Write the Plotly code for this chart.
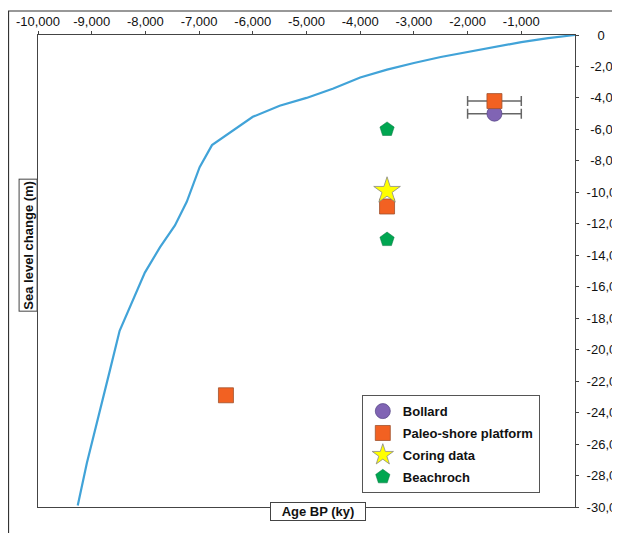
import math
import plotly.graph_objects as go

# ---- data ----
curve_age = [0, -500, -1000, -1500, -2000, -2500, -3000, -3500, -4000, -4500, -5000,
             -5500, -6000, -6760, -6990, -7230, -7450, -7730, -8010, -8250, -8480,
             -8660, -8900, -9090, -9260]
curve_sl = [0, -0.2, -0.45, -0.76, -1.08, -1.4, -1.78, -2.2, -2.7, -3.4, -4.0,
            -4.5, -5.2, -7.0, -8.4, -10.6, -12.1, -13.5, -15.1, -17.0, -18.8,
            -21.3, -24.5, -27.2, -29.9]

bollard_age = [-1500]
bollard_sl = [-5.0]
bollard_err = [500]

paleo_age = [-1500, -3500, -6500]
paleo_sl = [-4.2, -10.9, -22.9]
paleo_err = [500, math.nan, math.nan]

coring_age = [-3500]
coring_sl = [-9.9]

beach_age = [-3500, -3500]
beach_sl = [-6.0, -13.0]

x_ticks = [-10000, -9000, -8000, -7000, -6000, -5000, -4000, -3000, -2000, -1000]
x_labels = ["-10,000", "-9,000", "-8,000", "-7,000", "-6,000", "-5,000",
            "-4,000", "-3,000", "-2,000", "-1,000"]
y_ticks = [0, -2, -4, -6, -8, -10, -12, -14, -16, -18, -20, -22, -24, -26, -28, -30]
y_labels = ["0", "-2,0", "-4,0", "-6,0", "-8,0", "-10,0", "-12,0", "-14,0", "-16,0",
            "-18,0", "-20,0", "-22,0", "-24,0", "-26,0", "-28,0", "-30,0"]

NB = "\u00a0"


def centred(lbl):
    # pad short labels so they sit centred like the original's
    if len(lbl) == 1:
        return NB * 3 + lbl
    if len(lbl) == 4:
        return NB + lbl
    return lbl


FONT = "Liberation Sans, Arial, sans-serif"
err_style = dict(type="data", color="#666666", thickness=1.5, width=5)

fig = go.Figure()
fig.add_trace(go.Scatter(x=curve_age, y=curve_sl, mode="lines",
                         line=dict(color="#41a3d8", width=2.2), showlegend=False,
                         hoverinfo="skip"))
fig.add_trace(go.Scatter(x=bollard_age, y=bollard_sl, mode="markers", name="Bollard",
                         legendgroup="a",
                         error_x=dict(array=bollard_err, **err_style),
                         marker=dict(symbol="circle", size=15, color="#8064b4",
                                     line=dict(color="#5a4a8a", width=0.8))))
fig.add_trace(go.Scatter(x=paleo_age, y=paleo_sl, mode="markers", name="Paleo-shore platform",
                         legendgroup="b",
                         error_x=dict(array=paleo_err, **err_style),
                         marker=dict(symbol="square", size=15, color="#f26122",
                                     line=dict(color="#a0522d", width=0.8))))
fig.add_trace(go.Scatter(x=coring_age, y=coring_sl, mode="markers", name="Coring data",
                         legendgroup="c",
                         marker=dict(symbol="star", size=20, color="#ffff00",
                                     line=dict(color="#888888", width=0.8))))
fig.add_trace(go.Scatter(x=beach_age, y=beach_sl, mode="markers", name="Beachroch",
                         legendgroup="d",
                         marker=dict(symbol="pentagon", size=15, color="#00a651",
                                     line=dict(color="#00703a", width=0.5))))

fig.update_layout(
    width=612, height=525,
    margin=dict(l=30, r=45, t=27, b=26, autoexpand=False),
    paper_bgcolor="white", plot_bgcolor="white",
    font=dict(family=FONT, size=13, color="#111111"),
    xaxis=dict(range=[-10000, 0], side="top", tickvals=x_ticks, ticktext=x_labels,
               showgrid=False, zeroline=False, showline=True, mirror=True,
               linecolor="#444444", linewidth=1, ticks="outside", ticklen=3,
               tickcolor="#444444", tickfont=dict(size=13, family=FONT),
               automargin=False, ticklabelstandoff=0),
    yaxis=dict(range=[-30, 0], side="right", tickvals=y_ticks,
               ticktext=[centred(t) for t in y_labels],
               showgrid=False, zeroline=False, showline=True, mirror=True,
               linecolor="#444444", linewidth=1, ticks="outside", ticklen=3,
               tickcolor="#444444", tickfont=dict(size=13, family=FONT),
               automargin=False, ticklabelstandoff=5),
    legend=dict(x=0.603, y=0.237, xanchor="left", yanchor="top",
                bordercolor="#555555", borderwidth=1, bgcolor="white",
                font=dict(family=FONT, size=13, color="#111111", weight="bold"),
                itemsizing="trace", tracegroupgap=2),
    shapes=[dict(type="rect", xref="paper", yref="paper", x0=-0.0549, x1=1.2,
                 y0=-0.2, y1=1.0508, line=dict(color="#333333", width=1.2),
                 fillcolor="rgba(0,0,0,0)", layer="below")],
    annotations=[
        dict(text="<b>Sea level change (m)</b>", xref="paper", yref="paper",
             x=-0.037, y=0.555, showarrow=False, textangle=-90,
             font=dict(family=FONT, size=13, color="#111111"),
             bordercolor="#444444", borderwidth=1, borderpad=1, bgcolor="white"),
        dict(text="<b>Age BP (ky)</b>", xref="paper", yref="paper",
             x=0.522, y=-0.0297, showarrow=False, width=92, height=15,
             font=dict(family=FONT, size=13, color="#111111"),
             bordercolor="#444444", borderwidth=1, borderpad=1, bgcolor="white"),
    ],
)

fig.write_html("out.html",
               post_script="document.documentElement.style.overflow='hidden';")
